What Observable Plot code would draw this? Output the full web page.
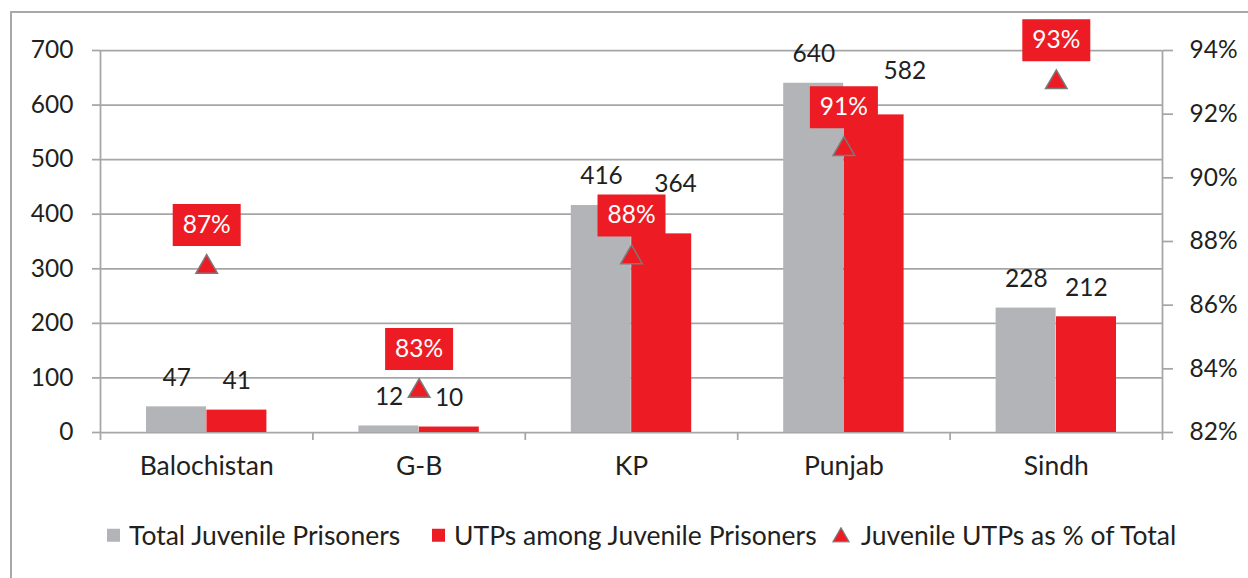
<!DOCTYPE html>
<html>
<head>
<meta charset="utf-8">
<script src="https://cdn.jsdelivr.net/npm/d3@7"></script>
<script src="https://cdn.jsdelivr.net/npm/@observablehq/plot@0.6"></script>
<style>
  html, body { margin: 0; padding: 0; background: #fff; }
  #wrap { position: relative; width: 1248px; height: 578px; overflow: hidden; font-family: Lato, "Open Sans", sans-serif; }
  #frame { position: absolute; left: 10px; top: 11px; width: 1300px; height: 700px; border-left: 2px solid #a8a8a8; border-top: 2px solid #a8a8a8; pointer-events: none; }
  #chart { position: absolute; left: 0; top: 0; }
  #legend { position: absolute; left: 0; top: 500px; width: 1248px; height: 78px; font-size: 26.5px; color: #231f20; }
  #legend .item { position: absolute; top: 35px; transform: translateY(-50%); display: flex; align-items: center; white-space: nowrap; line-height: 1; }
  #legend .sw { width: 13px; height: 13px; display: inline-block; margin-right: 9px; }
  #legend svg { margin-right: 11px; }
</style>
</head>
<body>
<div id="wrap">
  <div id="chart"></div>
  <div id="legend"></div>
  <div id="frame"></div>
</div>
<script>
const categories = ["Balochistan", "G-B", "KP", "Punjab", "Sindh"];
const totalJuvenile = [47, 12, 416, 640, 228];
const utpJuvenile = [41, 10, 364, 582, 212];
const utpPercent = [87.2, 83.3, 87.5, 90.9, 93.0];
const pctLabels = ["87%", "83%", "88%", "91%", "93%"];
const yTicks = [0, 100, 200, 300, 400, 500, 600, 700];
const pctTicks = [82, 84, 86, 88, 90, 92, 94];
const seriesNames = ["Total Juvenile Prisoners", "UTPs among Juvenile Prisoners", "Juvenile UTPs as % of Total"];

const GREY = "#b3b4b7";
const RED = "#ed1c24";
const TEXT = "#231f20";
const LINE = "#a6a6a6";

// secondary axis mapping (82%..94% onto 0..700)
const pMin = 82, pMax = 94, yMax = 700;
const toY = p => (p - pMin) / (pMax - pMin) * yMax;
const fromY = v => Math.round(v / yMax * (pMax - pMin) + pMin);

const rows = categories.map((c, i) => ({
  c, i, total: totalJuvenile[i], utp: utpJuvenile[i], pct: utpPercent[i], pctLabel: pctLabels[i]
}));

// label nudges where the % box would hide the value label (layout only)
const redNudge = {"KP": [14, -21], "Punjab": [31, -15]};

const boxSymbol = { draw(ctx) { ctx.moveTo(-34, -21); ctx.lineTo(34, -21); ctx.lineTo(34, 21); ctx.lineTo(-34, 21); ctx.closePath(); } };

const n = categories.length;
const boundaries = d3.range(n + 1);
const centers = d3.range(n).map(i => i + 0.5);

const NUM = 24.5;
const WORD = 26.5;

const plot = Plot.plot({
  width: 1248,
  height: 500,
  marginLeft: 100,
  marginRight: 86,
  marginTop: 50,
  marginBottom: 68,
  style: { fontFamily: "Lato, 'Open Sans', sans-serif", fontSize: "24px", color: TEXT, background: "transparent" },
  x: { type: "linear", domain: [0, n], axis: null },
  y: { domain: [0, yMax], axis: null },
  marks: [
    Plot.ruleY(yTicks, { stroke: LINE, strokeWidth: 1.75 }),
    Plot.axisY({ anchor: "left", ticks: yTicks, tickSize: 8, tickPadding: 19, stroke: LINE, strokeWidth: 1.75, fill: TEXT, fontSize: NUM, label: null }),
    Plot.axisY({ anchor: "right", ticks: pctTicks.map(toY), tickFormat: v => fromY(v) + "%", tickSize: 10, tickPadding: 17, stroke: LINE, strokeWidth: 1.75, fill: TEXT, fontSize: NUM, label: null }),
    Plot.ruleX([0, n], { y1: 0, y2: yMax, stroke: LINE, strokeWidth: 1.75 }),
    Plot.axisX({ ticks: boundaries, tickSize: 8, tickFormat: () => "", stroke: LINE, strokeWidth: 1.75, label: null }),
    Plot.axisX({ ticks: centers, tickSize: 0, tickPadding: 24, tickFormat: v => categories[Math.floor(v)], fill: TEXT, fontSize: WORD, label: null }),
    Plot.rectY(rows, { x1: d => d.i, x2: d => d.i + 1, y: "total", fill: GREY, insetLeft: 46, insetRight: 106.4 }),
    Plot.rectY(rows, { x1: d => d.i, x2: d => d.i + 1, y: "utp", fill: RED, insetLeft: 106.4, insetRight: 46 }),
    Plot.text(rows, { x: d => d.i + 0.5, y: "total", text: d => String(d.total), dx: -30, dy: -29, fill: TEXT, fontSize: NUM }),
    Plot.text(rows.filter(d => !redNudge[d.c]), { x: d => d.i + 0.5, y: "utp", text: d => String(d.utp), dx: 30, dy: -29, fill: TEXT, fontSize: NUM }),
    ...rows.filter(d => redNudge[d.c]).map(d =>
      Plot.text([d], { x: r => r.i + 0.5, y: "utp", text: r => String(r.utp), dx: 30 + redNudge[d.c][0], dy: -29 + redNudge[d.c][1], fill: TEXT, fontSize: NUM })
    ),
    Plot.dot(rows, { x: d => d.i + 0.5, y: d => toY(d.pct), symbol: "triangle", r: 8, fill: RED, stroke: "#7a7a7a", strokeWidth: 1.5 }),
    Plot.dot(rows, { x: d => d.i + 0.5, y: d => toY(d.pct), symbol: boxSymbol, r: 5, fill: RED, stroke: "none", dy: -42 }),
    Plot.text(rows, { x: d => d.i + 0.5, y: d => toY(d.pct), text: "pctLabel", dy: -42, fill: "#ffffff", fontSize: NUM })
  ]
});
document.getElementById("chart").appendChild(plot);

const legend = document.getElementById("legend");
const markers = [
  `<span class="sw" style="background:${GREY}"></span>`,
  `<span class="sw" style="background:${RED}"></span>`,
  `<svg width="18" height="16" viewBox="0 0 18 16"><path d="M9 1 L17 15 L1 15 Z" fill="${RED}" stroke="#7a7a7a" stroke-width="1.3"/></svg>`
];
const legendLeft = [107, 432, 832];
seriesNames.forEach((name, k) => {
  const el = document.createElement("div");
  el.className = "item";
  el.style.left = legendLeft[k] + "px";
  el.innerHTML = markers[k] + `<span>${name}</span>`;
  legend.appendChild(el);
});
</script>
</body>
</html>
